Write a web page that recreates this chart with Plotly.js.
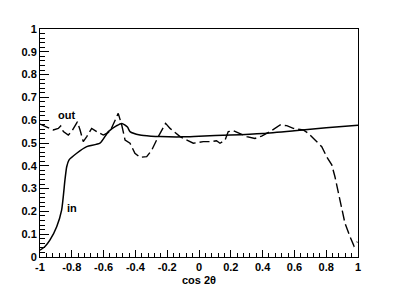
<!DOCTYPE html>
<html><head><meta charset="utf-8">
<script src="https://cdn.plot.ly/plotly-3.0.1.min.js"></script>
<style>html,body{margin:0;padding:0;background:#fff}#c{width:399px;height:286px}</style>
</head><body><div id="c"></div>
<script>
var inX = [-1, -0.97, -0.937, -0.895, -0.864, -0.843, -0.832, -0.818, -0.769, -0.706, -0.623, -0.57, -0.52, -0.486, -0.45, -0.434, -0.371, -0.3, -0.245, -0.1, 0, 0.2, 0.4, 0.6, 0.8, 1];
var inY = [0.03, 0.045, 0.075, 0.133, 0.206, 0.338, 0.396, 0.425, 0.455, 0.484, 0.499, 0.55, 0.575, 0.586, 0.57, 0.55, 0.535, 0.53, 0.528, 0.527, 0.53, 0.535, 0.542, 0.554, 0.567, 0.578];
var outX = [-1, -0.958, -0.916, -0.885, -0.87, -0.853, -0.822, -0.801, -0.78, -0.765, -0.748, -0.728, -0.706, -0.675, -0.643, -0.602, -0.56, -0.508, -0.486, -0.465, -0.434, -0.403, -0.371, -0.329, -0.297, -0.256, -0.21, -0.182, -0.119, -0.036, 0.027, 0.08, 0.11, 0.132, 0.164, 0.184, 0.216, 0.258, 0.3, 0.352, 0.394, 0.447, 0.51, 0.552, 0.593, 0.656, 0.688, 0.73, 0.772, 0.803, 0.835, 0.855, 0.887, 0.918, 0.95, 0.975, 0.996];
var outY = [0.583, 0.57, 0.557, 0.564, 0.575, 0.55, 0.535, 0.55, 0.579, 0.593, 0.557, 0.506, 0.528, 0.564, 0.55, 0.535, 0.55, 0.63, 0.579, 0.513, 0.499, 0.455, 0.437, 0.44, 0.469, 0.528, 0.586, 0.564, 0.528, 0.499, 0.506, 0.506, 0.51, 0.499, 0.513, 0.55, 0.554, 0.542, 0.528, 0.52, 0.53, 0.55, 0.579, 0.576, 0.564, 0.557, 0.542, 0.513, 0.484, 0.44, 0.404, 0.352, 0.25, 0.148, 0.089, 0.048, 0.067];
var xTickVals = [-1, -0.8, -0.6, -0.4, -0.2, 0, 0.2, 0.4, 0.6, 0.8, 1];
var xTickText = ["-1", "-0.8", "-0.6", "-0.4", "-0.2", "0", "0.2", "0.4", "0.6", "0.8", "1"];
var yTickVals = [0, 0.1, 0.2, 0.3, 0.4, 0.5, 0.6, 0.7, 0.8, 0.9, 1];
var yTickText = ["0", "0.1", "0.2", "0.3", "0.4", "0.5", "0.6", "0.7", "0.8", "0.9", "1"];
var curveLabels = ["out", "in"];
var labelX = [-0.836, -0.80];
var labelY = [0.621, 0.216];
var xTitle = "cos 2θ";

var F = "Liberation Sans, Arial, sans-serif";
var traces = [
  {x: inX, y: inY, mode: "lines", line: {color: "#000", width: 1.5, shape: "spline", smoothing: 0.6}, hoverinfo: "skip"},
  {x: outX, y: outY, mode: "lines", line: {color: "#000", width: 1.4, dash: "10px,4px"}, hoverinfo: "skip"}
];
var anns = curveLabels.map(function(t, i){
  return {x: labelX[i], y: labelY[i], text: t, showarrow: false, xref: "x", yref: "y",
          font: {family: F, size: 11, color: "#000", weight: "bold"}};
});
var layout = {
  width: 399, height: 286,
  margin: {l: 40, r: 41, t: 29, b: 29, pad: 0},
  paper_bgcolor: "#fff", plot_bgcolor: "#fff",
  showlegend: false,
  font: {family: F, color: "#000"},
  xaxis: {range: [-1, 1], tickmode: "array", tickvals: xTickVals, ticktext: xTickText,
          ticks: "inside", ticklen: 7, tickwidth: 1, tickcolor: "#000",
          minor: {dtick: 0.04, tick0: -1, ticks: "inside", ticklen: 4, tickcolor: "#000", showgrid: false},
          showgrid: false, zeroline: false, showline: true, mirror: true, linecolor: "#000", linewidth: 1,
          tickfont: {family: F, size: 11, weight: "bold"},
          title: {text: xTitle, font: {family: F, size: 11, weight: "bold"}, standoff: 4}},
  yaxis: {range: [0, 1], tickmode: "array", tickvals: yTickVals, ticktext: yTickText,
          ticks: "inside", ticklen: 9, tickwidth: 1, tickcolor: "#000",
          minor: {dtick: 0.02, tick0: 0, ticks: "inside", ticklen: 5, tickcolor: "#000", showgrid: false},
          showgrid: false, zeroline: false, showline: true, mirror: true, linecolor: "#000", linewidth: 1,
          tickfont: {family: F, size: 11, weight: "bold"}},
  annotations: anns
};
Plotly.newPlot("c", traces, layout, {staticPlot: true, displayModeBar: false});
</script></body></html>
